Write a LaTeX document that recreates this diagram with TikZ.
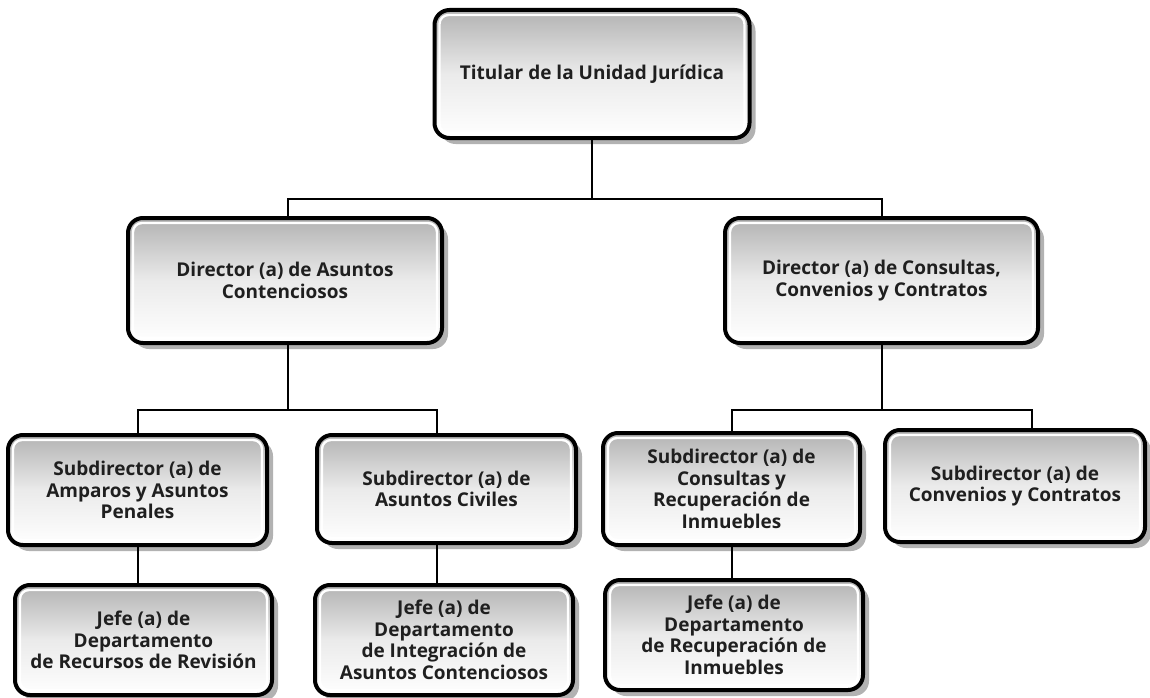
\documentclass[tikz,border=0pt]{standalone}
\usepackage{fontspec}
\setmainfont{Open Sans}
\usetikzlibrary{shadows}
\begin{document}
\begin{tikzpicture}[x=1pt,y=-1pt,
  orgbox/.style={draw=black, line width=4pt, rounded corners=15pt,
    top color=black!30, bottom color=white, middle color=black!8,
    align=center, font=\fontsize{19}{21.5}\selectfont\bfseries, text=black!88,
    inner sep=2pt,
    drop shadow={shadow xshift=6pt, shadow yshift=-6pt, fill=black, opacity=0.3},
    path picture={\draw[white, line width=2.4pt, rounded corners=9pt]
      ([shift={(5pt,-5pt)}]path picture bounding box.north west) rectangle
      ([shift={(-5pt,5pt)}]path picture bounding box.south east);}},
  link/.style={draw=black, line width=1.6pt}]
\useasboundingbox (0,0) rectangle (1150,698);
\fill[white] (0,0) rectangle (1150,698);
\coordinate (t1) at (592,199);
\coordinate (l1) at (288,410);
\coordinate (r1) at (882,410);
\coordinate (c1) at (138,410);
\coordinate (c2) at (437,410);
\coordinate (c3) at (732,410);
\coordinate (c4) at (1032,410);
\node[orgbox, minimum width=315pt, minimum height=128pt] (top) at (592,74) {Titular de la Unidad Jurídica};
\node[orgbox, minimum width=314pt, minimum height=125pt] (dirL) at (285,280.5) {Director (a) de Asuntos\\Contenciosos};
\node[orgbox, minimum width=313pt, minimum height=125pt] (dirR) at (881.5,280.5) {Director (a) de Consultas,\\Convenios y Contratos};
\node[orgbox, minimum width=259pt, minimum height=110pt] (sub1) at (137.5,490) {Subdirector (a) de\\Amparos y Asuntos\\Penales};
\node[orgbox, minimum width=259pt, minimum height=108pt] (sub2) at (446.5,489) {Subdirector (a) de\\Asuntos Civiles};
\node[orgbox, minimum width=257pt, minimum height=112pt] (sub3) at (731.5,489) {Subdirector (a) de\\Consultas y\\Recuperación de\\Inmuebles};
\node[orgbox, minimum width=260pt, minimum height=112pt] (sub4) at (1015,486) {Subdirector (a) de\\Convenios y Contratos};
\node[orgbox, minimum width=257pt, minimum height=110pt] (jefe1) at (143.5,640) {Jefe (a) de\\Departamento\\de Recursos de Revisión};
\node[orgbox, minimum width=258pt, minimum height=110pt] (jefe2) at (444,640) {Jefe (a) de\\Departamento\\de Integración de\\Asuntos Contenciosos};
\node[orgbox, minimum width=258pt, minimum height=110pt] (jefe3) at (734,635) {Jefe (a) de\\Departamento\\de Recuperación de\\Inmuebles};
\draw[link] (top.south) -- (t1);
\draw[link] (dirL.north -| l1) |- (t1) -| (dirR.north -| r1);
\draw[link] (dirL.south -| l1) -- (l1);
\draw[link] (sub1.north -| c1) |- (l1) -| (sub2.north -| c2);
\draw[link] (dirR.south -| r1) -- (r1);
\draw[link] (sub3.north -| c3) |- (r1) -| (sub4.north -| c4);
\draw[link] (sub1.south -| c1) -- (jefe1.north -| c1);
\draw[link] (sub2.south -| c2) -- (jefe2.north -| c2);
\draw[link] (sub3.south -| c3) -- (jefe3.north -| c3);
\end{tikzpicture}
\end{document}
